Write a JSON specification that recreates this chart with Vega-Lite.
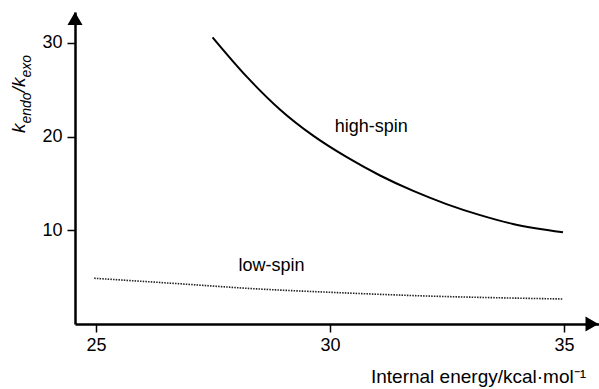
{
  "$schema": "https://vega.github.io/schema/vega-lite/v6.json",
  "width": 524,
  "height": 312,
  "autosize": {"type": "none"},
  "padding": {"left": 75, "top": 12, "right": 0, "bottom": 65},
  "background": "white",
  "config": {
    "view": {"stroke": null},
    "font": "Liberation Sans",
    "axis": {
      "domainColor": "black",
      "domainWidth": 2.5,
      "tickColor": "black",
      "tickWidth": 1.5,
      "tickSize": 8,
      "labelFont": "Liberation Sans",
      "labelFontSize": 18,
      "labelColor": "black",
      "labelPadding": 4,
      "grid": false,
      "titleFont": "Liberation Sans",
      "titleFontWeight": "normal",
      "titleColor": "black"
    }
  },
  "datasets": {
    "curves": [
      {"series": "high-spin", "energy": 27.49, "ratio": 30.6},
      {"series": "high-spin", "energy": 28.22, "ratio": 26.4},
      {"series": "high-spin", "energy": 28.93, "ratio": 22.9},
      {"series": "high-spin", "energy": 29.64, "ratio": 20.1},
      {"series": "high-spin", "energy": 30.36, "ratio": 17.8},
      {"series": "high-spin", "energy": 31.07, "ratio": 15.85},
      {"series": "high-spin", "energy": 31.78, "ratio": 14.2},
      {"series": "high-spin", "energy": 32.49, "ratio": 12.8},
      {"series": "high-spin", "energy": 33.21, "ratio": 11.62},
      {"series": "high-spin", "energy": 33.91, "ratio": 10.68},
      {"series": "high-spin", "energy": 34.98, "ratio": 9.8},
      {"series": "low-spin", "energy": 24.96, "ratio": 4.88},
      {"series": "low-spin", "energy": 26.65, "ratio": 4.34},
      {"series": "low-spin", "energy": 28.43, "ratio": 3.75},
      {"series": "low-spin", "energy": 30.21, "ratio": 3.34},
      {"series": "low-spin", "energy": 31.99, "ratio": 3.0},
      {"series": "low-spin", "energy": 33.78, "ratio": 2.78},
      {"series": "low-spin", "energy": 34.98, "ratio": 2.67}
    ],
    "labels": [
      {"label": "high-spin", "energy": 30.88, "ratio": 21.0},
      {"label": "low-spin", "energy": 28.75, "ratio": 6.2}
    ]
  },
  "layer": [
    {
      "data": {"name": "curves"},
      "transform": [{"filter": "datum.series === 'high-spin'"}],
      "mark": {"type": "line", "color": "black", "strokeWidth": 2, "interpolate": "monotone", "clip": false},
      "encoding": {
        "x": {
          "field": "energy", "type": "quantitative",
          "scale": {"domain": [24.55, 35.75], "nice": false, "zero": false},
          "axis": {
            "values": [25, 30, 35],
            "title": "Internal energy/kcal·mol⁻¹",
            "titleFontSize": 19,
            "titleAlign": "center",
            "titleBaseline": "alphabetic",
            "titleX": 403,
            "titleY": 58
          }
        },
        "y": {
          "field": "ratio", "type": "quantitative",
          "scale": {"domain": [0, 33.3], "nice": false, "zero": false},
          "axis": {"values": [10, 20, 30], "title": null, "labelPadding": 5}
        }
      }
    },
    {
      "data": {"name": "curves"},
      "transform": [{"filter": "datum.series === 'low-spin'"}],
      "mark": {"type": "line", "color": "#222", "strokeWidth": 1.6, "strokeDash": [1.5, 1.2], "interpolate": "monotone"},
      "encoding": {
        "x": {"field": "energy", "type": "quantitative"},
        "y": {"field": "ratio", "type": "quantitative"}
      }
    },
    {
      "data": {"name": "labels"},
      "mark": {"type": "text", "fontSize": 18, "color": "black", "align": "center", "baseline": "middle"},
      "encoding": {
        "x": {"field": "energy", "type": "quantitative"},
        "y": {"field": "ratio", "type": "quantitative"},
        "text": {"field": "label"}
      }
    },
    {
      "data": {"values": [{}]},
      "mark": {"type": "point", "shape": "triangle-up", "size": 225, "filled": true, "color": "black", "opacity": 1},
      "encoding": {"x": {"datum": 24.55}, "y": {"datum": 32.6}}
    },
    {
      "data": {"values": [{}]},
      "mark": {"type": "point", "shape": "triangle-right", "size": 225, "filled": true, "color": "black", "opacity": 1, "clip": false},
      "encoding": {"x": {"datum": 35.6}, "y": {"datum": 0}}
    },
    {
      "data": {"values": [{}]},
      "mark": {"type": "text", "text": "k", "fontSize": 19, "fontStyle": "italic", "angle": 270, "align": "left", "baseline": "alphabetic", "dy": -50, "dx": 0, "color": "black"},
      "encoding": {"x": {"datum": 24.55}, "y": {"datum": 20.38}}
    },
    {
      "data": {"values": [{}]},
      "mark": {"type": "text", "text": "endo", "fontSize": 14, "fontStyle": "italic", "angle": 270, "align": "left", "baseline": "alphabetic", "dy": -44, "dx": 9.5, "color": "black"},
      "encoding": {"x": {"datum": 24.55}, "y": {"datum": 20.38}}
    },
    {
      "data": {"values": [{}]},
      "mark": {"type": "text", "text": "/", "fontSize": 19, "fontStyle": "italic", "angle": 270, "align": "left", "baseline": "alphabetic", "dy": -50, "dx": 40.5, "color": "black"},
      "encoding": {"x": {"datum": 24.55}, "y": {"datum": 20.38}}
    },
    {
      "data": {"values": [{}]},
      "mark": {"type": "text", "text": "k", "fontSize": 19, "fontStyle": "italic", "angle": 270, "align": "left", "baseline": "alphabetic", "dy": -50, "dx": 46, "color": "black"},
      "encoding": {"x": {"datum": 24.55}, "y": {"datum": 20.38}}
    },
    {
      "data": {"values": [{}]},
      "mark": {"type": "text", "text": "exo", "fontSize": 14, "fontStyle": "italic", "angle": 270, "align": "left", "baseline": "alphabetic", "dy": -44, "dx": 55.5, "color": "black"},
      "encoding": {"x": {"datum": 24.55}, "y": {"datum": 20.38}}
    }
  ]
}
